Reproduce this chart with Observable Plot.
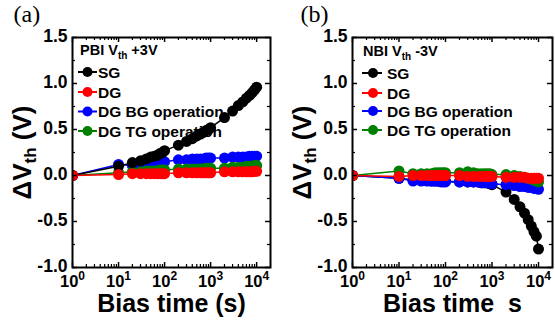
<!DOCTYPE html>
<html><head><meta charset="utf-8">
<script src="https://cdn.jsdelivr.net/npm/d3@7"></script>
<script src="https://cdn.jsdelivr.net/npm/@observablehq/plot@0.6"></script>
<style>
body{margin:0;background:#fff;}
#wrap{display:flex;width:555px;height:325px;overflow:hidden;}
svg{display:block;flex:none;}
svg text{white-space:pre;}
</style></head><body><div id="wrap"></div>
<script>
// ---- data ----
const times = [1,10,20,30,40,50,60,70,80,90,100,200,300,400,500,600,700,800,900,1000,2000,3000,4000,5000,6000,7000,8000,9000,10000];
const seriesNames = ["SG","DG","DG BG operation","DG TG operation"];
const seriesColors = ["#000000","#ff0000","#0000ff","#008000"];

// panel (a): PBI
const aSG = [0,0.10,0.14,0.16,0.18,0.20,0.21,0.22,0.24,0.25,0.27,0.33,0.37,0.40,0.43,0.45,0.47,0.49,0.50,0.52,0.63,0.70,0.76,0.80,0.84,0.87,0.90,0.93,0.96];
const aDG = [0,0.01,0.02,0.02,0.02,0.02,0.02,0.02,0.02,0.02,0.02,0.03,0.03,0.03,0.03,0.03,0.03,0.03,0.03,0.03,0.04,0.04,0.04,0.04,0.04,0.04,0.04,0.045,0.045];
const aBG = [0,0.12,0.11,0.12,0.12,0.13,0.13,0.14,0.14,0.14,0.15,0.17,0.17,0.18,0.18,0.18,0.18,0.19,0.19,0.19,0.19,0.20,0.20,0.20,0.20,0.21,0.21,0.21,0.21];
const aTG = [0,0.03,0.04,0.04,0.05,0.05,0.05,0.05,0.06,0.06,0.06,0.07,0.07,0.07,0.07,0.07,0.07,0.08,0.08,0.08,0.08,0.09,0.09,0.09,0.10,0.10,0.10,0.11,0.11];

// panel (b): NBI
const bSG = [0,-0.03,-0.05,-0.05,-0.05,-0.06,-0.06,-0.06,-0.06,-0.06,-0.06,-0.07,-0.07,-0.07,-0.07,-0.08,-0.08,-0.08,-0.09,-0.10,-0.18,-0.26,-0.34,-0.41,-0.48,-0.55,-0.61,-0.66,-0.80];
const bDG = [0,-0.01,0,0,0,0,0,0,0,0,0,0,-0.01,-0.01,-0.01,-0.01,-0.01,-0.01,-0.01,-0.01,-0.02,-0.02,-0.02,-0.02,-0.03,-0.03,-0.03,-0.03,-0.03];
const bBG = [0,-0.03,-0.06,-0.06,-0.06,-0.06,-0.06,-0.06,-0.07,-0.07,-0.07,-0.07,-0.07,-0.07,-0.07,-0.08,-0.08,-0.08,-0.08,-0.09,-0.10,-0.11,-0.12,-0.12,-0.13,-0.13,-0.14,-0.14,-0.15];
const bTG = [0,0.05,0.02,0.02,0.02,0.02,0.03,0.03,0.03,0.03,0.03,0.03,0.04,0.03,0.02,0.02,0.02,0.02,0.02,0.01,0.01,0,-0.01,-0.02,-0.03,-0.04,-0.05,-0.06,-0.07];

// ticks
const majorX = [1,10,100,1000,10000];
const minorX = [2,3,4,5,6,7,8,9,20,30,40,50,60,70,80,90,200,300,400,500,600,700,800,900,2000,3000,4000,5000,6000,7000,8000,9000];
const yTicks = [-1,-0.5,0,0.5,1,1.5];
const yMinor = [-0.75,-0.25,0.25,0.75,1.25];

const SANS = "'Liberation Sans', Arial, Helvetica, sans-serif";
const SERIF = "'Liberation Serif', 'Times New Roman', serif";

function makePanel(cfg) {
  const {W, ml, mr, panelLabel, labelDx, legendTitle, legendSign, xTitle, data, order, lg} = cfg;
  const MT = 37, MB = 58, H = 325;
  const FH = H - MT - MB, FW = W - ml - mr;
  const seriesMarks = [];
  order.forEach(si => {
    const rows = times.map((t, i) => ({t, v: data[si][i]}));
    seriesMarks.push(Plot.line(rows, {x: "t", y: "v", stroke: seriesColors[si], strokeWidth: 1.5, clip: true}));
    seriesMarks.push(Plot.dot(rows, {x: "t", y: "v", r: 5.5, fill: seriesColors[si], stroke: "none", clip: true}));
  });
  const svg = Plot.plot({
    width: W, height: H, marginLeft: ml, marginRight: mr, marginTop: MT, marginBottom: MB,
    x: {type: "log", domain: [1, 2e4], axis: null},
    y: {domain: [-1, 1.5], axis: null},
    style: {fontFamily: SANS, fontWeight: "bold", color: "#000", background: "#fff", overflow: "visible"},
    marks: [
      ...seriesMarks,
      // inward ticks
      Plot.ruleX(majorX, {x: d => d, insetTop: FH - 5, stroke: "#000", strokeWidth: 1.5}),
      Plot.ruleX(majorX, {x: d => d, insetBottom: FH - 5, stroke: "#000", strokeWidth: 1.5}),
      Plot.ruleX(minorX, {x: d => d, insetTop: FH - 3, stroke: "#000", strokeWidth: 1.2}),
      Plot.ruleX(minorX, {x: d => d, insetBottom: FH - 3, stroke: "#000", strokeWidth: 1.2}),
      Plot.ruleY(yTicks, {y: d => d, insetRight: FW - 5, stroke: "#000", strokeWidth: 1.5}),
      Plot.ruleY(yTicks, {y: d => d, insetLeft: FW - 5, stroke: "#000", strokeWidth: 1.5}),
      Plot.ruleY(yMinor, {y: d => d, insetRight: FW - 3, stroke: "#000", strokeWidth: 1.2}),
      Plot.ruleY(yMinor, {y: d => d, insetLeft: FW - 3, stroke: "#000", strokeWidth: 1.2}),
      Plot.frame({stroke: "#000", strokeWidth: 2}),
      Plot.axisX(majorX, {anchor: "bottom", tickSize: 0, tickPadding: 8, fontSize: 16.5, fontWeight: "bold", label: null,
        tickFormat: d => "10^" + Math.round(Math.log10(d))}),
      Plot.axisY(yTicks, {anchor: "left", tickSize: 0, tickPadding: 5, dy: -1, fontSize: 17.5, fontWeight: "bold", label: null,
        tickFormat: d => d.toFixed(1)}),
      Plot.text(["ΔV_th (V)"], {frameAnchor: "left", text: d => d, rotate: -90, dx: -50, fontSize: 26, fontWeight: "bold", textAnchor: "middle"}),
      Plot.text([xTitle], {frameAnchor: "bottom", text: d => d, dy: 27, lineAnchor: "top", fontSize: 25, fontWeight: "bold"}),
      Plot.text([panelLabel], {frameAnchor: "top-left", text: d => d, dx: labelDx, dy: -23, textAnchor: "start", lineAnchor: "middle", fontSize: 24, fontWeight: "normal", fontFamily: SERIF})
    ]
  });

  const s = d3.select(svg);
  // superscript tick labels and subscripted titles
  s.selectAll("text").each(function () {
    const el = d3.select(this);
    const txt = this.textContent;
    const m = /^10\^(\d)$/.exec(txt);
    if (m) {
      el.text("");
      el.append("tspan").text("10");
      el.append("tspan").attr("font-size", 12).attr("dy", "-7").text(m[1]);
    } else if (txt === "ΔV_th (V)") {
      el.text("");
      el.append("tspan").text("ΔV");
      el.append("tspan").attr("font-size", 17).attr("dy", "5").text("th");
      el.append("tspan").attr("dy", "-5").text(" (V)");
    }
  });

  // legend (drawn beneath the data, as in the reference)
  const g = s.insert("g", "g").attr("font-family", SANS).attr("font-weight", "bold").attr("fill", "#000").attr("text-anchor", "start");
  const t = g.append("text").attr("x", ml + lg.titleX).attr("y", lg.titleY).attr("font-size", 14.5).attr("text-anchor", "start");
  t.append("tspan").text(legendTitle[0]);
  t.append("tspan").attr("font-size", 10).attr("dy", 4).text("th");
  t.append("tspan").attr("dy", -4).text(legendSign);
  seriesNames.forEach((name, i) => {
    const yy = lg.rows[i];
    g.append("line").attr("x1", ml + lg.lineX1).attr("x2", ml + lg.lineX2).attr("y1", yy).attr("y2", yy)
      .attr("stroke", seriesColors[i]).attr("stroke-width", 2);
    g.append("circle").attr("cx", ml + lg.markX).attr("cy", yy).attr("r", 5).attr("fill", seriesColors[i]);
    g.append("text").attr("x", ml + lg.textX).attr("y", yy + 5.5).attr("font-size", 15.5).attr("text-anchor", "start").text(name);
  });
  return svg;
}

const wrap = document.getElementById("wrap");
wrap.appendChild(makePanel({
  W: 278, ml: 72, mr: 8, panelLabel: "(a)", labelDx: -59,
  legendTitle: ["PBI V"], legendSign: " +3V", xTitle: "Bias time (s)",
  data: [aSG, aDG, aBG, aTG], order: [2, 3, 0, 1],
  lg: {titleX: 8, titleY: 55, lineX1: 6, lineX2: 25, markX: 15.5, textX: 26, rows: [72, 92, 111.5, 131]}
}));
wrap.appendChild(makePanel({
  W: 277, ml: 74, mr: 3, panelLabel: "(b)", labelDx: -52,
  legendTitle: ["NBI V"], legendSign: " -3V", xTitle: "Bias time  s",
  data: [bSG, bDG, bBG, bTG], order: [0, 2, 3, 1],
  lg: {titleX: 11, titleY: 56, lineX1: 10, lineX2: 30, markX: 21, textX: 35, rows: [73, 93, 111, 130]}
}));
</script></body></html>
